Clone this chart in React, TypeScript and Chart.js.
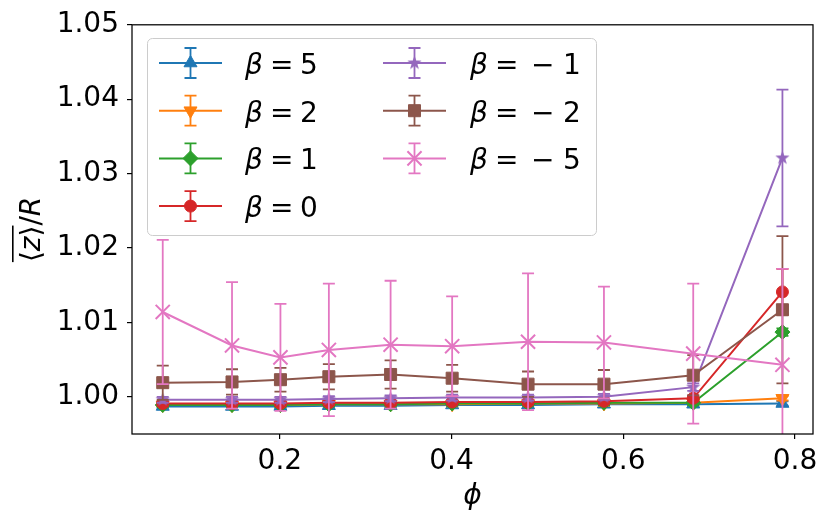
import React, { useEffect, useRef } from 'react';
import { Chart, registerables } from 'chart.js';
import { drawPoint } from 'chart.js/helpers';

Chart.register(...registerables);

// packing fraction on the x axis
const phi = [0.0636, 0.1443, 0.2007, 0.2571, 0.329, 0.4007, 0.4891, 0.5775, 0.6815, 0.7854];

const betaSigns = ['', '', '', '', '−', '−', '−'];
const betaValues = ['5', '2', '1', '0', '1', '2', '5'];

// <z>/R per beta
const zBeta5 = [0.9987, 0.9987, 0.9987, 0.9988, 0.9988, 0.9989, 0.9989, 0.999, 0.999, 0.9991];
const zBeta2 = [0.9989, 0.9989, 0.9989, 0.999, 0.999, 0.999, 0.9991, 0.9991, 0.9992, 0.9998];
const zBeta1 = [0.9989, 0.9989, 0.9989, 0.999, 0.999, 0.9991, 0.9991, 0.9992, 0.9992, 1.0087];
const zBeta0 = [0.9991, 0.9991, 0.9991, 0.9992, 0.9992, 0.9993, 0.9993, 0.9994, 0.9998, 1.0141];
const zBetaM1 = [0.9996, 0.9996, 0.9996, 0.9997, 0.9998, 0.9999, 0.9999, 1.0, 1.0013, 1.0321];
const zBetaM2 = [1.0019, 1.002, 1.0023, 1.0027, 1.003, 1.0025, 1.0017, 1.0017, 1.0029, 1.0117];
const zBetaM5 = [1.0114, 1.0069, 1.0053, 1.0063, 1.007, 1.0068, 1.0074, 1.0073, 1.0058, 1.0043];

// error bar half widths
const errBeta5 = [0.0003, 0.0003, 0.0003, 0.0003, 0.0003, 0.0003, 0.0003, 0.0003, 0.0003, 0.0003];
const errBeta2 = [0.0003, 0.0003, 0.0003, 0.0003, 0.0003, 0.0003, 0.0003, 0.0003, 0.0003, 0.0003];
const errBeta1 = [0.0003, 0.0003, 0.0003, 0.0003, 0.0003, 0.0003, 0.0003, 0.0003, 0.0003, 0.0005];
const errBeta0 = [0.0003, 0.0003, 0.0003, 0.0003, 0.0003, 0.0003, 0.0003, 0.0003, 0.0004, 0.0031];
const errBetaM1 = [0.0004, 0.0004, 0.0004, 0.0004, 0.0004, 0.0004, 0.0004, 0.0004, 0.0005, 0.0092];
const errBetaM2 = [0.0023, 0.0017, 0.0016, 0.0017, 0.0019, 0.0018, 0.0017, 0.0019, 0.0027, 0.0099];
const errBetaM5 = [0.0097, 0.0085, 0.0072, 0.0089, 0.0086, 0.0067, 0.0092, 0.0075, 0.0094, 0.0129];

const xTicks = [0.2, 0.4, 0.6, 0.8];
const yTicks = [1.0, 1.01, 1.02, 1.03, 1.04, 1.05];

const seriesValues = [zBeta5, zBeta2, zBeta1, zBeta0, zBetaM1, zBetaM2, zBetaM5];
const seriesErrors = [errBeta5, errBeta2, errBeta1, errBeta0, errBetaM1, errBetaM2, errBetaM5];
const colors = ['#1f77b4', '#ff7f0e', '#2ca02c', '#d62728', '#9467bd', '#8c564b', '#e377c2'];

const FONT = '"DejaVu Sans"';

function makeStar(color: string, outer: number, inner: number) {
    const size = Math.ceil(outer * 2 + 2);
    const c = document.createElement('canvas');
    c.width = size;
    c.height = size;
    const g = c.getContext('2d')!;
    g.fillStyle = color;
    g.beginPath();
    for (let k = 0; k < 10; k++) {
        const r = k % 2 === 0 ? outer : inner;
        const a = -Math.PI / 2 + (k * Math.PI) / 5;
        g.lineTo(size / 2 + r * Math.cos(a), size / 2 + r * Math.sin(a));
    }
    g.closePath();
    g.fill();
    return c;
}

const errorBarPlugin = {
    id: 'errorBars',
    beforeDatasetDraw(chart: any, args: any) {
        const ds = chart.data.datasets[args.index];
        const { ctx, chartArea, scales } = chart;
        ctx.save();
        ctx.beginPath();
        ctx.rect(chartArea.left, chartArea.top, chartArea.right - chartArea.left, chartArea.bottom - chartArea.top);
        ctx.clip();
        ctx.strokeStyle = ds.borderColor;
        ctx.lineWidth = 1.8;
        const cap = 6;
        ds.data.forEach((p: any, i: number) => {
            const e = ds.errors[i];
            const x = scales.x.getPixelForValue(p.x);
            const y1 = scales.y.getPixelForValue(p.y + e);
            const y2 = scales.y.getPixelForValue(p.y - e);
            ctx.beginPath();
            ctx.moveTo(x, y1);
            ctx.lineTo(x, y2);
            ctx.moveTo(x - cap, y1);
            ctx.lineTo(x + cap, y1);
            ctx.moveTo(x - cap, y2);
            ctx.lineTo(x + cap, y2);
            ctx.stroke();
        });
        ctx.restore();
    }
};

const framePlugin = {
    id: 'frame',
    afterDatasetsDraw(chart: any) {
        const { ctx, chartArea: a } = chart;
        ctx.save();
        ctx.strokeStyle = '#000';
        ctx.lineWidth = 1.25;
        ctx.strokeRect(a.left, a.top, a.right - a.left, a.bottom - a.top);
        ctx.restore();
    }
};

const labelsPlugin = {
    id: 'mplLabels',
    afterDraw(chart: any) {
        const { ctx, chartArea: a } = chart;
        ctx.save();
        ctx.fillStyle = '#000';

        // x label
        ctx.font = `italic 28px ${FONT}`;
        ctx.textAlign = 'center';
        ctx.textBaseline = 'alphabetic';
        ctx.fillText('ϕ', (a.left + a.right) / 2, 504);

        // y label: overline(<z>)/R, rotated
        ctx.translate(40, (a.top + a.bottom) / 2);
        ctx.rotate(-Math.PI / 2);
        ctx.textAlign = 'left';
        const up = `28px ${FONT}`;
        const it = `italic 28px ${FONT}`;
        const parts: [string, string][] = [['⟨', up], ['z', it], ['⟩', up], ['/', up], ['R', it]];
        let total = 0;
        const widths = parts.map(([t, f]) => {
            ctx.font = f;
            const w = ctx.measureText(t).width;
            total += w;
            return w;
        });
        let x = -total / 2;
        let overEnd = 0;
        parts.forEach(([t, f], i) => {
            ctx.font = f;
            ctx.fillText(t, x, 0);
            x += widths[i];
            if (i === 2) overEnd = x;
        });
        ctx.fillRect(-total / 2, -28, overEnd + total / 2, 1.6);
        ctx.restore();
    }
};

const legendPlugin = {
    id: 'mplLegend',
    afterDraw(chart: any) {
        const ctx = chart.ctx;
        ctx.save();
        ctx.beginPath();
        ctx.roundRect(147.5, 38.5, 449, 197, 5);
        ctx.fillStyle = 'rgba(255,255,255,0.8)';
        ctx.fill();
        ctx.strokeStyle = '#cccccc';
        ctx.lineWidth = 1;
        ctx.stroke();

        chart.data.datasets.forEach((ds: any, i: number) => {
            const col = i < 4 ? 0 : 1;
            const row = i < 4 ? i : i - 4;
            const hx = col === 0 ? 159 : 383;
            const tx = col === 0 ? 245 : 470;
            const cy = 63 + row * 47.7;
            const cx = hx + 31.5;
            ctx.strokeStyle = ds.borderColor;
            ctx.fillStyle = ds.borderColor;
            ctx.lineWidth = 2;
            ctx.beginPath();
            ctx.moveTo(hx, cy);
            ctx.lineTo(hx + 63, cy);
            ctx.stroke();
            ctx.lineWidth = 1.8;
            ctx.beginPath();
            ctx.moveTo(cx, cy - 15);
            ctx.lineTo(cx, cy + 15);
            ctx.moveTo(cx - 6, cy - 15);
            ctx.lineTo(cx + 6, cy - 15);
            ctx.moveTo(cx - 6, cy + 15);
            ctx.lineTo(cx + 6, cy + 15);
            ctx.stroke();
            ctx.lineWidth = ds.pointBorderWidth;
            drawPoint(ctx, {
                pointStyle: ds.pointStyle,
                radius: ds.pointRadius,
                rotation: ds.pointRotation || 0,
                borderWidth: ds.pointBorderWidth
            } as any, cx, cy);

            // mathtext-like "β = 5" / "β = − 1"
            const base = cy + 11;
            ctx.fillStyle = '#000';
            ctx.textAlign = 'left';
            ctx.textBaseline = 'alphabetic';
            ctx.font = `italic 28px ${FONT}`;
            ctx.fillText('β', tx, base);
            ctx.font = `28px ${FONT}`;
            ctx.fillText('=', tx + 25, base);
            if (betaSigns[i]) {
                ctx.fillText(betaSigns[i], tx + 61, base);
                ctx.fillText(betaValues[i], tx + 93, base);
            } else {
                ctx.fillText(betaValues[i], tx + 55, base);
            }
        });
        ctx.restore();
    }
};

const App = () => {
    const chartRef = useRef<HTMLCanvasElement>(null);
    const chartInstance = useRef<Chart | null>(null);

    useEffect(() => {
        document.body.style.margin = '0';
        if (!chartRef.current) return;
        const ctx = chartRef.current.getContext('2d');
        if (!ctx) return;
        if (chartInstance.current) chartInstance.current.destroy();

        const markers: any[] = [
            { pointStyle: 'triangle', pointRadius: 7.5, pointRotation: 0, pointBorderWidth: 1 },
            { pointStyle: 'triangle', pointRadius: 7.5, pointRotation: 180, pointBorderWidth: 1 },
            { pointStyle: 'rectRot', pointRadius: 7.5, pointRotation: 0, pointBorderWidth: 1 },
            { pointStyle: 'circle', pointRadius: 6, pointRotation: 0, pointBorderWidth: 1 },
            { pointStyle: makeStar(colors[4], 7.5, 3), pointRadius: 7.5, pointRotation: 0, pointBorderWidth: 1 },
            { pointStyle: 'rect', pointRadius: 8.5, pointRotation: 0, pointBorderWidth: 1 },
            { pointStyle: 'crossRot', pointRadius: 10, pointRotation: 0, pointBorderWidth: 2 }
        ];

        const datasets = seriesValues.map((vals, i) => ({
            label: 'β = ' + betaSigns[i] + betaValues[i],
            data: vals.map((v, j) => ({ x: phi[j], y: v })),
            errors: seriesErrors[i],
            borderColor: colors[i],
            backgroundColor: colors[i],
            pointBackgroundColor: colors[i],
            pointBorderColor: colors[i],
            borderWidth: 2,
            tension: 0,
            order: 10 - i,
            ...markers[i]
        }));

        chartInstance.current = new Chart(ctx, {
            type: 'line',
            data: { datasets } as any,
            plugins: [errorBarPlugin, framePlugin, labelsPlugin, legendPlugin],
            options: {
                animation: false,
                responsive: true,
                maintainAspectRatio: false,
                events: [],
                layout: { padding: { left: 0, right: 18, top: 23, bottom: 0 } },
                plugins: {
                    legend: { display: false },
                    tooltip: { enabled: false }
                },
                scales: {
                    x: {
                        type: 'linear',
                        min: 0.0278,
                        max: 0.821,
                        afterBuildTicks: (s: any) => {
                            s.ticks = xTicks.map((v) => ({ value: v }));
                        },
                        afterFit: (s: any) => {
                            s.height = 93;
                        },
                        ticks: {
                            color: '#000',
                            padding: 6,
                            maxRotation: 0,
                            font: { family: FONT, size: 28 },
                            callback: (v: any) => Number(v).toFixed(1)
                        },
                        grid: { drawOnChartArea: false, drawTicks: true, tickLength: 5, color: '#000', lineWidth: 1.2 },
                        border: { display: false }
                    },
                    y: {
                        type: 'linear',
                        min: 0.995,
                        max: 1.05,
                        afterBuildTicks: (s: any) => {
                            s.ticks = yTicks.map((v) => ({ value: v }));
                        },
                        afterFit: (s: any) => {
                            s.width = 132;
                        },
                        ticks: {
                            color: '#000',
                            padding: 8,
                            font: { family: FONT, size: 28 },
                            callback: (v: any) => Number(v).toFixed(2)
                        },
                        grid: { drawOnChartArea: false, drawTicks: true, tickLength: 5, color: '#000', lineWidth: 1.2 },
                        border: { display: false }
                    }
                }
            }
        });

        return () => {
            if (chartInstance.current) {
                chartInstance.current.destroy();
                chartInstance.current = null;
            }
        };
    }, []);

    return (
        <div style={{ position: 'relative', width: 831, height: 527, background: '#fff' }}>
            <canvas ref={chartRef}></canvas>
        </div>
    );
};

export default App;
